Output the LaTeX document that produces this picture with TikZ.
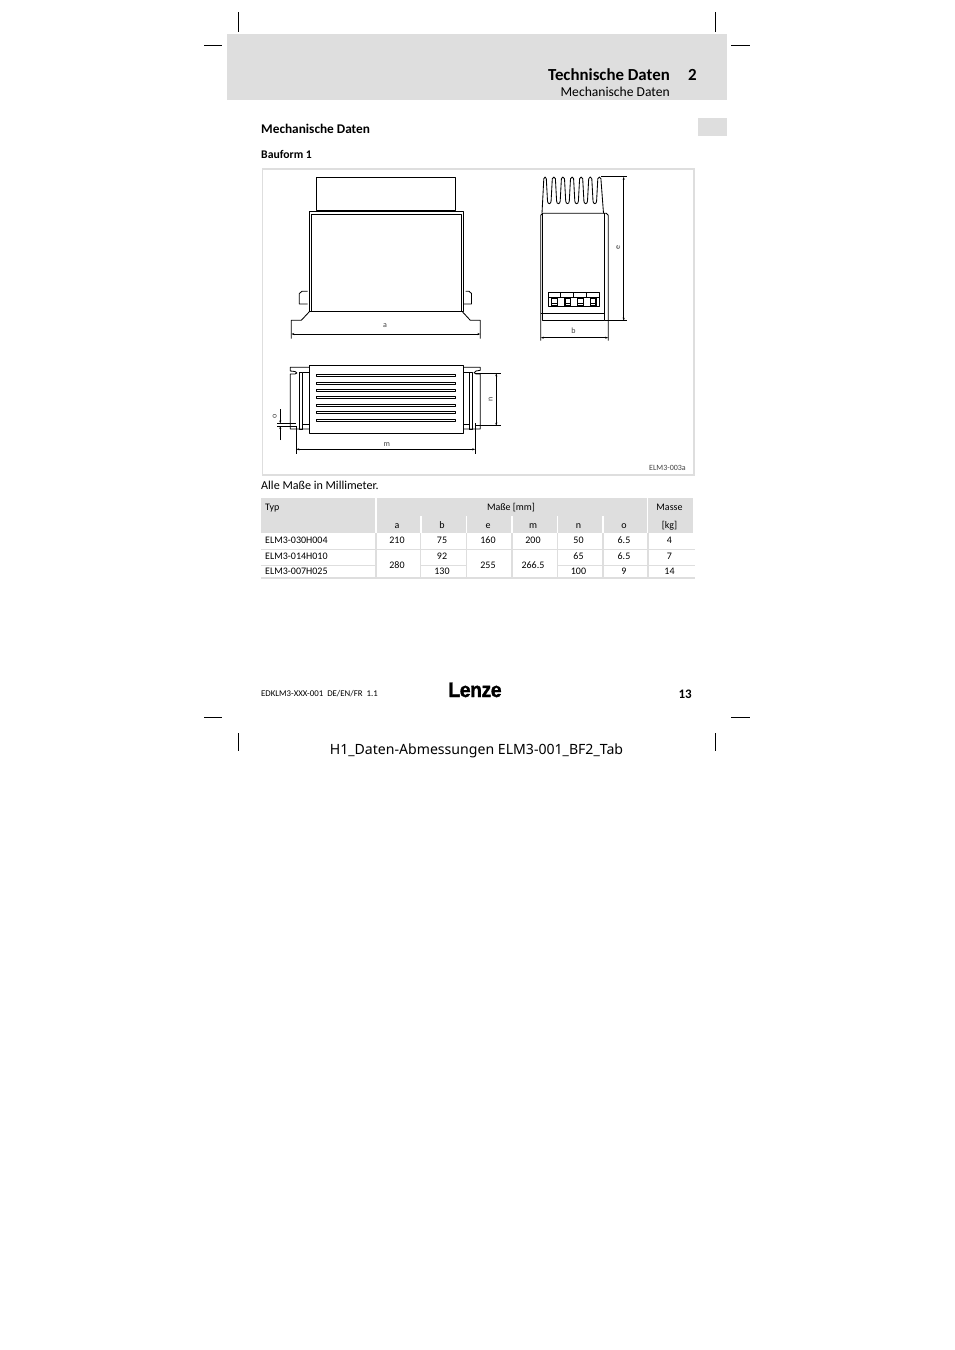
\documentclass[tikz,border=0pt]{standalone}
\usepackage{fontspec}
\setmainfont{Carlito}
\newfontfamily\stampfont{Noto Sans}
\newfontfamily\logofont[BoldFeatures={FakeBold=1.6,LetterSpace=-2}]{Liberation Sans}
\usetikzlibrary{arrows.meta}
\definecolor{pagegrey}{HTML}{DEDEDE}
\tikzset{
  part/.style={line width=0.85pt,line join=round},
  thin part/.style={line width=0.6pt},
  tip/.style={>={Stealth[length=3pt,width=2pt]}},
  dim/.style={line width=0.75pt,<->,tip},
  ext/.style={line width=0.75pt},
  crop/.style={line width=0.8pt},
  rowline/.style={line width=1.1pt,draw=pagegrey},
  label/.style={font=\fontsize{8}{9}\selectfont,inner sep=0pt,text=black!75},
  cell/.style={font=\fontsize{10}{11}\selectfont,inner sep=0pt},
  typ/.style={cell,anchor=base west},
  para/.style={font=\fontsize{12.1}{14}\selectfont,inner sep=0pt,anchor=base west},
  head/.style={font=\bfseries\fontsize{13.3}{15}\selectfont,inner sep=0pt,anchor=base west},
}
\begin{document}
\begin{tikzpicture}[x=1pt,y=-1pt]
  \useasboundingbox (0,0) rectangle (954,1350);
  % page head
  \fill [pagegrey] (227,34) rectangle (727,100);
  \fill [pagegrey] (698,118) rectangle (727,136);
  \node [anchor=base east,inner sep=0pt,font=\bfseries\fontsize{16.85}{19}\selectfont] (title) at (670,80) {Technische Daten};
  \node [anchor=base east,inner sep=0pt,font=\bfseries\fontsize{17}{19}\selectfont] (chapter) at (697,80) {2};
  \node [anchor=base east,inner sep=0pt,font=\fontsize{13.6}{16}\selectfont] (subtitle) at (670,96) {Mechanische Daten};
  \node [head] (section) at (261,133) {Mechanische Daten};
  \node [head,font=\bfseries\fontsize{11.7}{13}\selectfont] (form) at (261,158) {Bauform 1};
  % crop marks
  \foreach \x in {238.7,715.8} {
    \draw [crop] (\x,12) -- (\x,32);
    \draw [crop] (\x,733) -- (\x,751);
  }
  \foreach \y in {45,717} {
    \draw [crop] (204,\y) -- (222,\y);
    \draw [crop] (731,\y) -- (750,\y);
  }
  % drawing frame
  \draw [pagegrey,line width=1.6pt] (262.5,169) rectangle (694,475);
  \node [label,anchor=base east] (code) at (686,470) {ELM3-003a};

  % front view
  \draw [part] (316.3,177) rectangle (455.7,210.3);
  \draw [part] (309.7,311.3) -- (309.7,211.5) -- (463.7,211.5) -- (463.7,311.3) -- cycle;
  \draw [part] (311.7,311.3) -- (311.7,214.7) -- (461,214.7) -- (461,311.3);
  \draw [part] (307.7,291.3) -- (302,291.3) -- (299.3,293.5) -- (299.3,304) -- (307.7,304); % left clip
  \draw [part] (465.7,291.3) -- (469,291.3) -- (471.5,293.5) -- (471.5,304) -- (464,304); % right clip
  \coordinate (FL) at (291.3,338.7);
  \coordinate (FR) at (480.3,338.7);
  \draw [part] (309.7,311.3) -- (301.3,320.3) -- (291.3,320.3) -- (FL);
  \draw [part] (462,311.3) -- (470.3,320.3) -- (480.3,320.3) -- (FR);
  \coordinate (A1) at (291.3,334);
  \coordinate (A2) at (480.3,334);
  \draw [dim] (A1) -- (A2);
  \node [label] (a) at (385,326) {a};

  % side view
  \draw [part] (542,213.3) -- (543.8,178.7) .. controls (544,176.5) and (546.3,176.5) .. (546.3,178.7)
    foreach \x in {549.3,558.4,567.5,576.6,585.7,594.8} {
      -- (\x-1.8,201) .. controls (\x-1.8,204.5) and (\x+1.8,204.5) .. (\x+1.8,201) -- (\x+3,178.7)
      .. controls (\x+3,176.5) and (\x+6.1,176.5) .. (\x+6.1,178.7)
    } -- (603.5,213.3);
  \draw [part] (540.7,340.7) -- (540.7,215.3) -- (542.7,213.3) -- (606.3,213.3) -- (608.3,215.3) -- (608.3,340.7);
  \draw [part] (542.7,213.3) -- (542.7,320.7) -- (604.7,320.7) -- (604.7,213.3);
  \draw [part] (540.7,313.3) -- (604.7,313.3);
  \draw [part] (548.3,292) rectangle (599.7,306);
  \draw [part] (548.3,297) -- (599.7,297);
  \foreach \x in {560.7,573.3,586.7} \draw [thin part] (\x,292) -- (\x,297);
  \foreach \x in {551.7,565,577.7,590.3} { % terminals
    \draw [line width=1.3pt] (\x,298) rectangle (\x+5.6,306);
    \draw [thin part] (\x,303) -- (\x+5.6,303);
  }
  \coordinate (E1) at (623.7,176.7);
  \coordinate (E2) at (623.7,320.7);
  \draw [ext] (601,176.7) -- (627,176.7);
  \draw [ext] (604.7,320.7) -- (627,320.7);
  \draw [dim] (E1) -- (E2);
  \node [label,rotate=90] (e) at (618.3,247.3) {e};
  \coordinate (B1) at (540.7,337.7);
  \coordinate (B2) at (608.3,337.7);
  \draw [dim] (B1) -- (B2);
  \node [label] (b) at (573.5,331) {b};

  % top view
  \draw [part] (309.7,365.3) rectangle (463.7,433.3);
  \foreach \y in {375.7,383.3,390.7,397.7,405.7,412.7,420.3} % slots
    \draw [part] (316.3,\y-1.2) rectangle (455.7,\y+1.2);
  \draw [part] (309.7,367.3) -- (290.3,367.3) -- (290.3,371) -- (295,371.5) .. controls (297.5,372) and (297.5,374) .. (295,374) -- (290.3,374) -- (290.3,429) -- (309.7,429);
  \draw [part] (463.7,367.3) -- (480.3,367.3) -- (480.3,370.3) -- (476,371) .. controls (473.5,371.5) and (473.5,374) .. (476,374) -- (480.3,374) -- (480.3,429) -- (463.7,429);
  \draw [part] (299.3,372.3) rectangle (302.7,429);
  \draw [part] (469.3,372.3) rectangle (472,429);
  \draw [part] (302.7,372.3) -- (309.7,372.3);
  \draw [part] (302.7,424.3) -- (309.7,424.3);
  \draw [part] (463.7,372.3) -- (469.3,372.3);
  \draw [part] (463.7,424.3) -- (469.3,424.3);
  % dimension o
  \coordinate (O1) at (280.3,409.3);
  \coordinate (O2) at (280.3,423.5);
  \coordinate (O3) at (280.3,426);
  \coordinate (O4) at (280.3,440);
  \draw [ext] (277,423.5) -- (296.3,423.5);
  \draw [ext] (277,426) -- (296.3,426);
  \draw [ext,->,tip] (O1) -- (O2);
  \draw [ext,->,tip] (O4) -- (O3);
  \node [label,rotate=90] (o) at (274.7,416) {o};
  % dimension m
  \coordinate (M1) at (296.3,449.3);
  \coordinate (M2) at (475.3,449.3);
  \draw [ext] (296.3,426) -- (296.3,454);
  \draw [ext] (475.3,423) -- (475.3,454);
  \draw [dim] (M1) -- (M2);
  \node [label] (m) at (386.7,444.3) {m};
  % dimension n
  \coordinate (N1) at (496.3,373.3);
  \coordinate (N2) at (496.3,425.7);
  \draw [ext] (475,373.3) -- (501,373.3);
  \draw [ext] (475,425.7) -- (501,425.7);
  \draw [dim] (N1) -- (N2);
  \node [label,rotate=90] (n) at (490.7,399.3) {n};

  \node [para] (note) at (261,489) {Alle Maße in Millimeter.};

  % table
  \fill [pagegrey] (261,498) rectangle (375,533);
  \fill [pagegrey] (376.7,498) rectangle (646.5,533);
  \fill [pagegrey] (648.3,498) rectangle (693,533);
  \foreach \x in {420.7,466.3,512,557.5,603} \draw [white,line width=1.6pt] (\x,516) -- (\x,533);
  \foreach \x in {376,420.7,466.3,512,557.5,603,648} \draw [rowline] (\x,533) -- (\x,578);
  \draw [rowline] (261,549.3) -- (695,549.3);
  \draw [rowline] (261,578) -- (695,578);
  \draw [rowline] (261,565.3) -- (376,565.3);
  \draw [rowline] (420.7,565.3) -- (466.3,565.3);
  \draw [rowline] (557.5,565.3) -- (695,565.3);
  \node [typ] (typ) at (265,510) {Typ};
  \node [cell,anchor=base] (masze) at (511,510) {Maße [mm]};
  \node [cell,anchor=base] (masse) at (669.5,510) {Masse};
  \node [cell,anchor=base] (kg) at (669.5,528) {[kg]};
  \foreach \name/\x in {a/397,b/442,e/488,m/533,n/578.5,o/624} \node [cell,anchor=base] (h\name) at (\x,528) {\name};
  \node [typ] (t1) at (265,543) {ELM3-030H004};
  \node [typ] (t2) at (265,559) {ELM3-014H010};
  \node [typ] (t3) at (265,574) {ELM3-007H025};
  \foreach \val/\x in {210/397,75/442,160/488,200/533,50/578.5,6.5/624,4/669.5} \node [cell,anchor=base] at (\x,543) {\val};
  \foreach \val/\x in {92/442,65/578.5,6.5/624,7/669.5} \node [cell,anchor=base] at (\x,559) {\val};
  \foreach \val/\x in {130/442,100/578.5,9/624,14/669.5} \node [cell,anchor=base] at (\x,574) {\val};
  \foreach \val/\x in {280/397,255/488,266.5/533} \node [cell,anchor=base] at (\x,568) {\val};

  % page foot
  \node [anchor=base west,inner sep=0pt,font=\fontsize{8.8}{10}\selectfont] (doc) at (261,696) {EDKLM3-XXX-001\hspace{4pt}DE/EN/FR\hspace{4pt}1.1};
  \node [anchor=base,inner sep=0pt,xscale=0.92,font=\logofont\bfseries\fontsize{21}{23}\selectfont] (logo) at (475,697) {Lenze};
  \node [anchor=base east,inner sep=0pt,font=\bfseries\fontsize{13}{15}\selectfont] (page) at (692,698) {13};
  \node [anchor=base,inner sep=0pt,font=\stampfont\fontsize{14.1}{15}\selectfont] (stamp) at (476.5,754) {H1\_Daten-Abmessungen ELM3-001\_BF2\_Tab};
\end{tikzpicture}
\end{document}
